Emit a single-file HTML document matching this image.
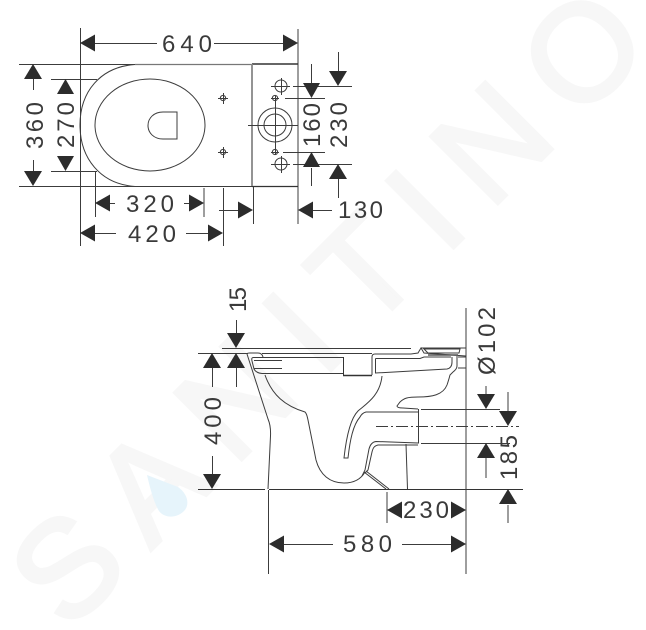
<!DOCTYPE html>
<html>
<head>
<meta charset="utf-8">
<style>
html,body{margin:0;padding:0;background:#fff;width:646px;height:630px;overflow:hidden}
svg{display:block}
.t{font-family:"Liberation Sans",sans-serif;font-size:24px;fill:#3a3a3a}
.w{font-family:"Liberation Sans",sans-serif;font-size:137px;fill:#f7f7f7;stroke:#f7f7f7;stroke-width:4px}
</style>
</head>
<body>
<svg width="646" height="630" viewBox="0 0 646 630" xmlns="http://www.w3.org/2000/svg">
<!-- watermark -->
<text class="w" transform="translate(68 633) rotate(-45)" x="0" y="0" textLength="828" lengthAdjust="spacing">SANITINO</text>
<path d="M147 475L178 487C188 494 190 505 184 511C176 519 164 518 159 511C154 503 150 488 147 475Z" fill="#e6f4fb"/>

<g fill="none" stroke="#3c3c3c" stroke-width="1">
<!-- TOP VIEW -->
<path d="M80.5 28V246M298 29V224"/>
<path d="M19 64.500H135M19 186.500H298" />
<path d="M135 64.500H252" stroke="#777" stroke-width="1.2"/>
<path d="M252 64H298" stroke="#333" stroke-width="1.6"/>
<path d="M252 186.500H298" stroke="#333" stroke-width="1.200"/>
<path d="M252 64V186" stroke="#888" stroke-width="1.800"/>
<path d="M135 64.500C100 67 80 92 80 125C80 158 100 184 135 186.500"/>
<ellipse cx="150" cy="125" rx="55" ry="46"/>
<path d="M177 112H163C154 112 148 118 148 125.500C148 133 154 139 163 139H177Z"/>
<path d="M51 79.500H97M51 171.500H97"/>
<path d="M95.500 171V217M204 188V217M223.500 188V246M253.500 187V224"/>
<!-- shafts top -->
<path d="M95 43.500H157M214 43.500H284"/>
<path d="M33.500 79V90M33.500 160V171"/>
<path d="M110 203.500H115M184 203.500H189"/>
<path d="M95 233.500H116M186 233.500H208"/>
<path d="M219 210.500H238M313 210.500H332"/>
<path d="M311.500 64V83M311.500 168V186"/>
<path d="M338.500 52V71M338.500 179V198"/>
<path d="M285 98.500H325M283 152.500H325M293 86.500H352M293 164.500H352"/>
<!-- holes -->
<circle cx="275" cy="125" r="17"/>
<circle cx="275" cy="125" r="11"/>
<path d="M248 125.500H298M275.500 96V155"/>
<circle cx="281" cy="86" r="6"/><path d="M271 86.500H290M281.500 78V95"/>
<circle cx="281" cy="164" r="6"/><path d="M271 164.500H290M281.500 156V173"/>
<circle cx="275" cy="98" r="2.600"/><path d="M271 98.500H279"/>
<circle cx="275" cy="152" r="2.600"/><path d="M271 152.500H279"/>
<circle cx="223" cy="98" r="2.600"/><path d="M218 98.500H228M223.500 93V104"/>
<circle cx="223" cy="152" r="2.600"/><path d="M218 152.500H228M223.500 147V158"/>

<!-- SIDE VIEW -->
<path d="M198 489.500H265M269 489.500H523" stroke="#333"/>
<path d="M222 348.500H411"/>
<path d="M198 353.500H248M262 353.500H372"/>
<path d="M466 308V558"/>
<path d="M268.500 490V574M387 492V523M466 500V574"/>
<!-- body -->
<path d="M247 354L268 419Q271 426 270.500 436L268 489"/>
<path d="M247 354Q247 353 250 353H258Q262 353 263 357"/>
<path d="M343 357.500H254Q251 357 252 361L254 369Q256 373 262 373.500H343M254 360.500H282M254 368.500H282"/>
<path d="M343.500 357V375" stroke="#333"/>
<path d="M343 375.500H372" stroke="#333" stroke-width="1.600"/>
<!-- bowl -->
<path d="M265 375C272 395 285 406 305 412C307 414 307 416 308 420L316 460C320 475 330 483 344 483C354 483 361 479 365 472"/>
<path d="M372 375V357Q372 354 375 354H411L418 353L421 348L424 353L466 356"/>
<path d="M375.500 358.500H420L424 357H451"/>
<path d="M375.500 358.500V373L447 369Q452 368 452 362V357"/>
<path d="M424 349L428 353H459L460 349ZM421 348H466"/>
<path d="M428 355H458" stroke="#555" stroke-width="1.600"/>
<path d="M458 357H466V368H458" />
<path d="M457 356V366Q457 369 453 372L450 375Q449 379 447 385C443 395 432 397 418 397C408 397 404 398 400 402L397 406Q397 408 403 408L418 409"/>
<path d="M418.500 409V443.500"/>
<path d="M382 376C380 396 366 404 358 411C350 419 346 440 344 458H348C350 440 353 425 360 417Q362 413 366 412H418"/>
<path d="M418 443L376 441.500C372 442 370 445 369 449L365 470L362 476"/>
<path d="M418 445L378 445C374 446 373 448 372 452L368 470L365 473"/>
<path d="M364 472L386 489M366 471L389 489"/>
<path d="M406 444L407.500 489"/>
<path d="M421 409.500H500M421 443.500H510"/>
<path d="M376 426.500H519" stroke-dasharray="12 3 2 3"/>
<!-- shafts side -->
<path d="M236.500 320V333M236.500 368V387"/>
<path d="M212.500 368V387M212.500 456V475"/>
<path d="M486 386V394M486 458V478"/>
<path d="M508 392V411M508 505V523"/>
<path d="M284 544.500H333M402 544.500H451"/>
</g>

<!-- arrowheads -->
<g fill="#2c2c2c">
<polygon points="80,43 95,34.500 95,51.500"/>
<polygon points="298,43 283,34.500 283,51.500"/>
<polygon points="33,64 24,79 42,79"/>
<polygon points="33,186 24,171 42,171"/>
<polygon points="65.500,79 57,94 74,94"/>
<polygon points="65.500,171 57,156 74,156"/>
<polygon points="95,203 110,194.500 110,211.500"/>
<polygon points="204,203 189,194.500 189,211.500"/>
<polygon points="80,233 95,224.500 95,241.500"/>
<polygon points="223,233 208,224.500 208,241.500"/>
<polygon points="253,210 238,201.500 238,218.500"/>
<polygon points="298,210 313,201.500 313,218.500"/>
<polygon points="311.500,98 303,83 320,83"/>
<polygon points="311.500,152 303,167 320,167"/>
<polygon points="338,86 329,71 347,71"/>
<polygon points="338,164 329,179 347,179"/>
<polygon points="236,348 227,333 245,333"/>
<polygon points="236,353 227,368 245,368"/>
<polygon points="212,353 203,368 221,368"/>
<polygon points="212,489 203,474 221,474"/>
<polygon points="486,409 477,394 495,394"/>
<polygon points="486,443 477,458 495,458"/>
<polygon points="508,426 499,411 517,411"/>
<polygon points="508,489 499,504 517,504"/>
<polygon points="387,510 402,501.500 402,518.500"/>
<polygon points="466,510 451,501.500 451,518.500"/>
<polygon points="269,544 284,535.500 284,552.500"/>
<polygon points="466,544 451,535.500 451,552.500"/>
</g>

<!-- labels -->
<text class="t" x="162" y="52" textLength="50">640</text>
<text class="t" x="126" y="212" textLength="48">320</text>
<text class="t" x="128" y="242" textLength="48">420</text>
<text class="t" x="338" y="218" textLength="45">130</text>
<text class="t" transform="translate(43 149) rotate(-90)" textLength="47">360</text>
<text class="t" transform="translate(74 148) rotate(-90)" textLength="46">270</text>
<text class="t" transform="translate(320 147) rotate(-90)" textLength="44">160</text>
<text class="t" transform="translate(347 148) rotate(-90)" textLength="46">230</text>
<text class="t" transform="translate(246 312) rotate(-90)" textLength="25">15</text>
<text class="t" transform="translate(221 445) rotate(-90)" textLength="48">400</text>
<text class="t" transform="translate(495 375) rotate(-90)" textLength="68">Ø102</text>
<text class="t" transform="translate(517 480) rotate(-90)" textLength="45">185</text>
<text class="t" x="403" y="518" textLength="46">230</text>
<text class="t" x="343" y="552" textLength="49">580</text>
</svg>
</body>
</html>
